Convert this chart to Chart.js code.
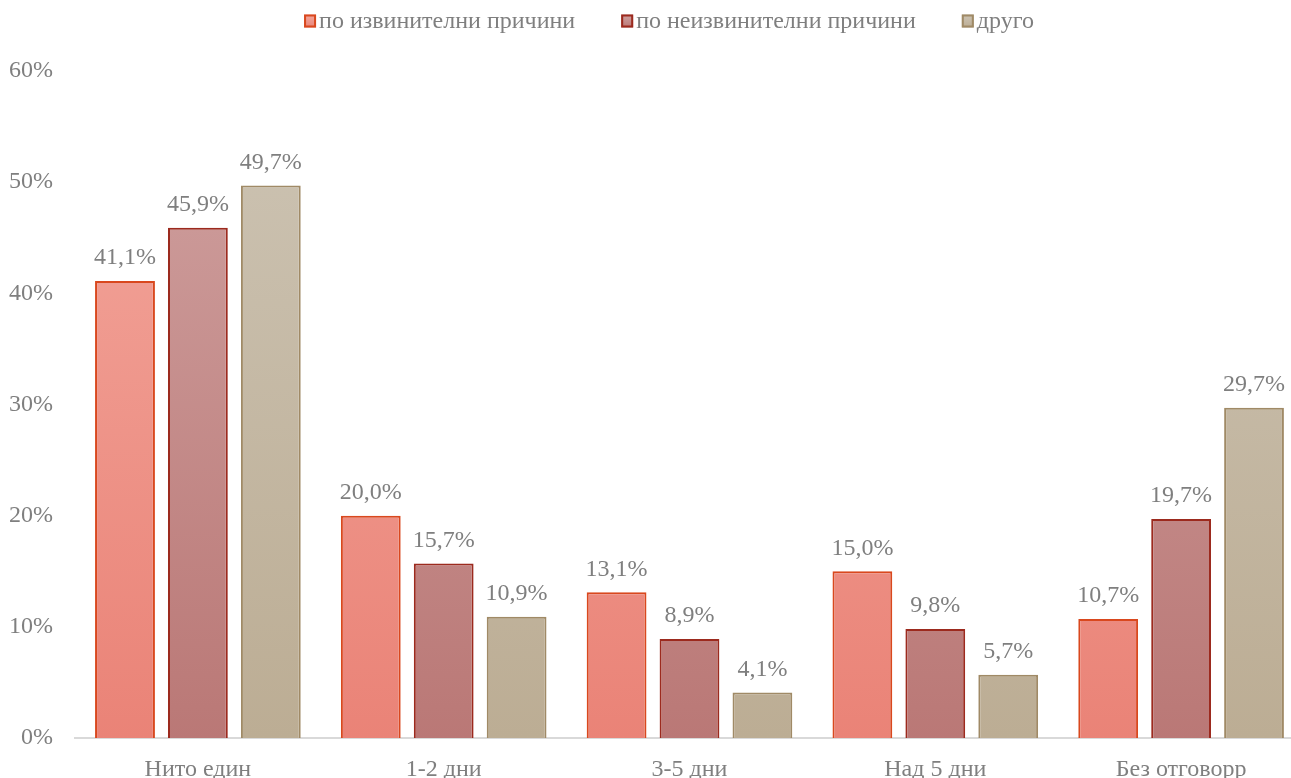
<!DOCTYPE html>
<html>
<head>
<meta charset="utf-8">
<script src="https://cdn.jsdelivr.net/npm/chart.js@4"></script>
<style>
  html, body { margin: 0; padding: 0; background: #fff; overflow: hidden; }
  .chart-wrap { width: 1304px; height: 778px; }
</style>
</head>
<body>
<div class="chart-wrap"><canvas id="absenceChart"></canvas></div>
<script>
// DATA
const categories = ["Нито един", "1-2 дни", "3-5 дни", "Над 5 дни", "Без отговорр"];
const excusedValues = [41.1, 20.0, 13.1, 15.0, 10.7];
const unexcusedValues = [45.9, 15.7, 8.9, 9.8, 19.7];
const otherValues = [49.7, 10.9, 4.1, 5.7, 29.7];
const seriesLabels = ["по извинителни причини", "по неизвинителни причини", "друго"];
const yTicks = [0, 10, 20, 30, 40, 50, 60];

// colours: [top, bottom, border]
const seriesColors = [
  ["#F3A89E", "#EA8377", "#D9481E"],
  ["#D0A2A1", "#BA7876", "#9C2A1E"],
  ["#CDC4B4", "#BCAD94", "#A08A66"]
];

const textGrey = "#7F7F7F";
const serif = "'Liberation Serif', 'Times New Roman', serif";
const fontSize = 24;

// vertical gradient per series, built from the chart area
const gradientFill = (idx) => (ctx) => {
  const area = ctx.chart.chartArea;
  if (!area) return seriesColors[idx][0];
  const g = ctx.chart.ctx.createLinearGradient(0, area.top, 0, area.bottom);
  g.addColorStop(0, seriesColors[idx][0]);
  g.addColorStop(1, seriesColors[idx][1]);
  return g;
};

// data labels above each bar
const valueLabels = {
  id: "valueLabels",
  afterDatasetsDraw(chart) {
    const c = chart.ctx;
    c.save();
    c.font = fontSize + "px " + serif;
    c.fillStyle = textGrey;
    c.textAlign = "center";
    c.textBaseline = "bottom";
    chart.data.datasets.forEach((ds, i) => {
      chart.getDatasetMeta(i).data.forEach((bar, j) => {
        const txt = ds.data[j].toFixed(1).replace(".", ",") + "%";
        c.fillText(txt, bar.x, bar.y - 11);
      });
    });
    c.restore();
  }
};

// legend: small boxes hugging the text, wide gaps between items
const boxLegend = {
  id: "boxLegend",
  afterDraw(chart) {
    const c = chart.ctx;
    const boxW = 12, boxH = 13, textGap = 3, itemGap = 46, midY = 21;
    c.save();
    c.font = fontSize + "px " + serif;
    c.textBaseline = "middle";
    const widths = chart.data.datasets.map(ds => c.measureText(ds.label).width);
    const total = widths.reduce((a, w) => a + boxW + textGap + w, 0) + itemGap * (widths.length - 1);
    let x = chart.width / 2 + 17 - total / 2;
    chart.data.datasets.forEach((ds, i) => {
      const col = seriesColors[i];
      const top = midY - boxH / 2;
      const g = c.createLinearGradient(0, top, 0, top + boxH);
      g.addColorStop(0, col[0]);
      g.addColorStop(1, col[1]);
      c.fillStyle = g;
      c.fillRect(x, top, boxW, boxH);
      c.strokeStyle = col[2];
      c.lineWidth = 2;
      c.strokeRect(x + 1, top + 1, boxW - 2, boxH - 2);
      c.fillStyle = textGrey;
      c.fillText(ds.label, x + boxW + textGap, midY + 1);
      x += boxW + textGap + widths[i] + itemGap;
    });
    c.restore();
  }
};

const makeSet = (label, data, idx) => ({
  label: label,
  data: data,
  backgroundColor: gradientFill(idx),
  borderColor: seriesColors[idx][2],
  borderWidth: 2,
  borderSkipped: "bottom"
});

const chart = new Chart(document.getElementById("absenceChart"), {
  type: "bar",
  data: {
    labels: categories,
    datasets: [
      makeSet(seriesLabels[0], excusedValues, 0),
      makeSet(seriesLabels[1], unexcusedValues, 1),
      makeSet(seriesLabels[2], otherValues, 2)
    ]
  },
  plugins: [valueLabels, boxLegend],
  options: {
    responsive: true,
    maintainAspectRatio: false,
    animation: false,
    categoryPercentage: 0.89,
    barPercentage: 0.82,
    layout: { padding: { top: 71, left: 0, right: 0, bottom: 0 } },
    plugins: {
      legend: { display: false },
      tooltip: { enabled: false }
    },
    scales: {
      x: {
        grid: { display: false, drawTicks: false },
        border: { display: true, color: "#D9D9D9", width: 2 },
        ticks: {
          font: { family: serif, size: fontSize },
          color: textGrey,
          padding: 17,
          maxRotation: 0
        },
        afterFit: (scale) => { scale.height = 40; }
      },
      y: {
        min: 0,
        max: 60,
        afterBuildTicks: (scale) => { scale.ticks = yTicks.map(v => ({ value: v })); },
        grid: { display: false, drawTicks: false },
        border: { display: false },
        ticks: {
          font: { family: serif, size: fontSize },
          color: textGrey,
          padding: 22,
          callback: (v) => v + "%"
        },
        afterFit: (scale) => { scale.width = 75; }
      }
    }
  }
});
</script>
</body>
</html>
